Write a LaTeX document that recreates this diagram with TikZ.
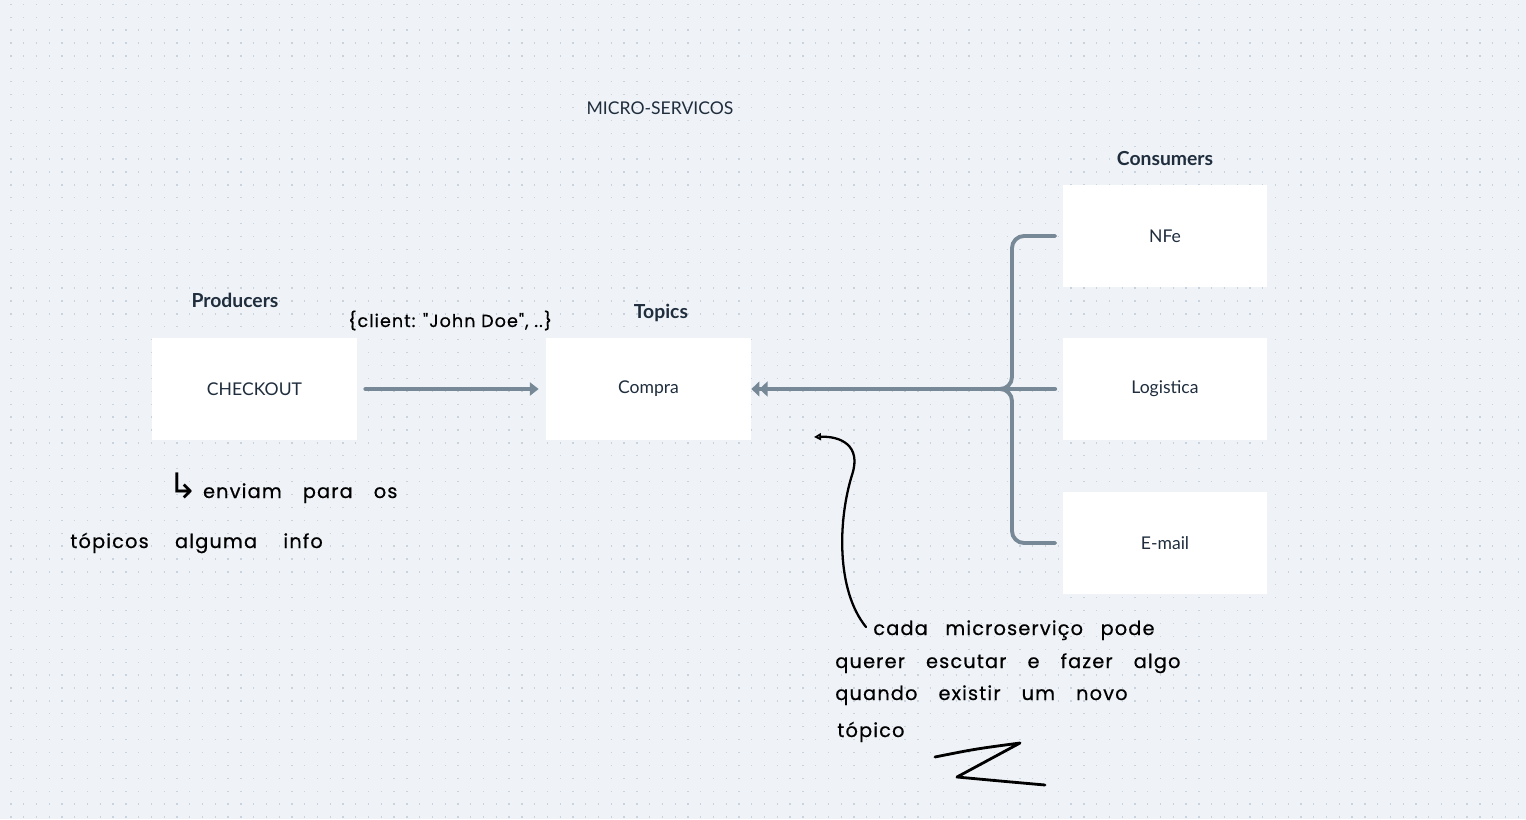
\documentclass[tikz,border=0pt]{standalone}
\usepackage{fontspec}
\setmainfont{Lato}
\newfontfamily\hand{Poppins}[LetterSpace=6,FakeBold=0.6]
\newfontfamily\symf{DejaVu Sans}
\usetikzlibrary{arrows.meta}
\definecolor{bgc}{HTML}{EFF3F7}
\definecolor{dotc}{HTML}{C9D3DE}
\definecolor{edgec}{HTML}{778896}
\definecolor{txt}{HTML}{1F2D3D}
\tikzset{
  box/.style={fill=white, minimum width=4.1cm, minimum height=2.04cm, inner sep=0pt,
    font=\fontsize{10}{12}\selectfont, text=txt},
  heading/.style={font=\bfseries\fontsize{11}{13}\selectfont, text=txt, inner sep=0pt},
  title/.style={font=\fontsize{10}{12}\selectfont, text=txt, inner sep=0pt},
  conn/.style={draw=edgec, line width=2.2pt, line cap=round},
  note/.style={font={\hand\fontsize{11}{13}\selectfont\spaceskip=12pt\relax}, text=black, inner sep=0pt, anchor=base west},
  pen/.style={draw=black, line width=1.3pt, line cap=round, line join=round}
}
\begin{document}
\begin{tikzpicture}[x=0.02cm,y=-0.02cm]
\fill[bgc] (0,0) rectangle (1526,819);
\useasboundingbox (0,0) rectangle (1526,819);
% dotted grid
\foreach \j in {0,...,63}
  \draw[dotc, line width=0.75pt, dash pattern=on 0.75pt off 6.52pt] (10.3,{4.3+\j*12.9}) -- (1526,{4.3+\j*12.9});

\node[title] (ttl) at (660,108) {MICRO-SERVICOS};
\node[heading] (prod) at (235,300) {Producers};
\node[heading] (top) at (661,313) {Topics};
\node[heading] (cons) at (1165,159) {Consumers};

\node[box] (checkout) at (254.5,389) {CHECKOUT};
\node[box] (compra) at (648.5,389) {Compra};
\node[box] (nfe) at (1165,236) {NFe};
\node[box] (log) at (1165,389) {Logistica};
\node[box] (mail) at (1165,543) {E-mail};

\coordinate (j) at (990,389);

\draw[conn, shorten <=0.16cm, shorten >=0.14cm, -{Triangle[length=5pt,width=7.4pt]}] (checkout.east) -- (compra.west);
\draw[conn, shorten <=0.14cm, -{Triangle[length=4.6pt,width=8.4pt]Triangle[length=4.6pt,width=8.4pt]}] (log.west) -- (compra.east);
\draw[conn, rounded corners=0.24cm, shorten <=0.14cm] (nfe.west) -- (1012,236) -- (1012,389) -- (j);
\draw[conn, rounded corners=0.24cm, shorten <=0.14cm] (mail.west) -- (1012,543) -- (1012,389) -- (j);

% handwritten notes
\node[note, font={\hand\fontsize{10}{12}\selectfont\spaceskip=0pt\relax}] (n0) at (348,327) {\{client: "John Doe", ..\}};
\node[note] (n1) at (168,498) {{\symf\fontsize{20}{20}\selectfont ↳}\hspace{3pt}enviam para os};
\node[note, font={\hand\fontsize{11}{13}\selectfont\spaceskip=15pt\relax}] (n2) at (70,548) {tópicos alguma info};
\node[note, font={\hand\fontsize{11}{13}\selectfont\spaceskip=10pt\relax}] (n3) at (873,635) {cada microserviço pode};
\node[note] (n4) at (835,668) {querer escutar e fazer algo};
\node[note] (n5) at (835,700) {quando existir um novo};
\node[note] (n6) at (837,737) {tópico};

\coordinate (ha) at (866,627);
\coordinate (hb) at (814,437);
\draw[pen, -{Triangle[open,length=4pt,width=4pt]}] (ha) .. controls (836,590) and (838,520) .. (852,475) .. controls (862,445) and (840,436) .. (hb);

\draw[pen, line width=1.6pt] (935,757) .. controls (975,749) .. (1020,743) -- (957,777) .. controls (1000,781) .. (1045,785);
\end{tikzpicture}
\end{document}
